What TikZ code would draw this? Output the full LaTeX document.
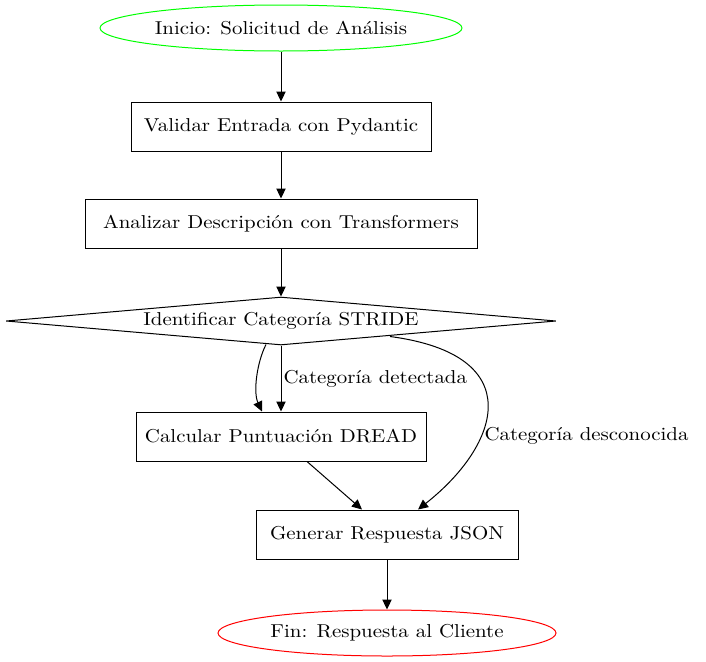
\documentclass[tikz,border=0pt]{standalone}
\usepackage{fontspec}
\setmainfont{lmroman10-regular.otf}[FakeStretch=1.12]
\usepackage{tikz}
\usetikzlibrary{calc}
\usetikzlibrary{arrows.meta}
\usetikzlibrary{shapes.geometric}
\newcommand{\heightbox}{49}
\newcommand{\textsizefc}{\fontsize{14}{17}\selectfont}
\tikzset{
    common/.style={draw, font=\textsizefc, inner sep=0pt},
    terminal/.style={common, ellipse},
    start/.style={terminal, green, text=black},
    stop/.style={terminal, red, text=black},
    stepbox/.style={common, rectangle, minimum height=\heightbox*0.75pt},
    decision/.style={common, diamond, aspect=11.46, minimum width=550*0.75pt, minimum height=48*0.75pt},
    edgelabel/.style={font=\textsizefc, anchor=west, inner sep=0pt},
    flow/.style={-{Triangle[length=7.5pt, width=7pt]}, black}
}

\begin{document}
\begin{tikzpicture}[x=0.75pt, y=-0.75pt, line width=0.75pt]
    \useasboundingbox (0,0) rectangle (706,661);

    \node[start, minimum width=362*0.75pt, minimum height=46*0.75pt] (inicio) at (281,28) {Inicio: Solicitud de Análisis};
    \node[stepbox, minimum width=300*0.75pt] (validar) at (281,126.5) {Validar Entrada con Pydantic};
    \node[stepbox, minimum width=392*0.75pt] (analizar) at (281,223.5) {Analizar Descripción con Transformers};
    \node[decision] (stride) at (281,321) {Identificar Categoría STRIDE};
    \node[stepbox, minimum width=290*0.75pt] (dread) at (281,436.5) {Calcular Puntuación DREAD};
    \node[stepbox, minimum width=262*0.75pt] (json) at (387,534.5) {Generar Respuesta JSON};
    \node[stop, minimum width=338*0.75pt, minimum height=46*0.75pt] (fin) at (387,633) {Fin: Respuesta al Cliente};

    \draw[flow] (inicio) -- (validar);
    \draw[flow] (validar) -- (analizar);
    \draw[flow] (analizar) -- (stride);
    \draw[flow] ($(stride.south)+(-15,-1)$) .. controls (257,362) and (253,392) .. ($(dread.north)+(-19,0)$);
    \draw[flow] (stride.south) -- node[edgelabel, pos=0.5, xshift=1.5pt] {Categoría detectada} (dread.north);
    \draw[flow] ($(stride.south)+(109,-9)$) .. controls (530,355) and (500,445) .. ($(json.north)+(31,0)$);
    \node[edgelabel] (desconocida) at (484,436) {Categoría desconocida};
    \draw[flow] ($(dread.south)+(26,0)$) -- ($(json.north)+(-25,0)$);
    \draw[flow] (json) -- (fin);
\end{tikzpicture}
\end{document}
